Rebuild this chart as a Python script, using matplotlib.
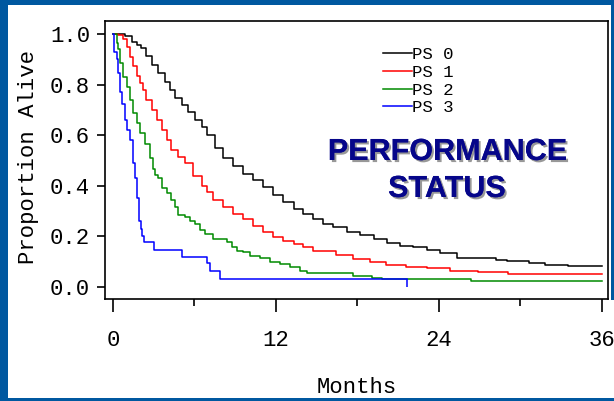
import matplotlib.pyplot as plt
from matplotlib.patches import Rectangle
import matplotlib.patheffects as pe

# Kaplan-Meier curves (months, proportion alive)
ps0_t = [0, 0.88, 1.37, 1.74, 2.1, 2.47, 2.84, 3.33, 3.83, 4.2, 4.56, 5.05, 5.54, 6.03, 6.52, 6.9, 7.5,
         8.1, 8.85, 9.6, 10.3, 11.07, 11.8, 12.5, 13.3, 14.0, 14.75, 15.5, 16.2, 17.2, 18.2, 19.2, 20.15,
         21.1, 22.1, 23.1, 24.1, 25.3, 28.2, 29.0, 30.6, 31.8, 33.5, 36]
ps0_s = [1.0, 0.99, 0.97, 0.958, 0.944, 0.912, 0.878, 0.845, 0.81, 0.78, 0.746, 0.72, 0.693, 0.66, 0.634,
         0.60, 0.548, 0.508, 0.48, 0.448, 0.422, 0.396, 0.362, 0.336, 0.31, 0.29, 0.27, 0.25, 0.237, 0.217,
         0.204, 0.19, 0.175, 0.164, 0.157, 0.148, 0.135, 0.115, 0.108, 0.102, 0.095, 0.088, 0.082, 0.082]

ps1_t = [0, 0.39, 0.76, 1.0, 1.25, 1.5, 1.74, 1.99, 2.24, 2.47, 2.84, 3.21, 3.58, 3.95, 4.3, 4.81, 5.3,
         5.9, 6.52, 6.9, 7.38, 8.1, 8.85, 9.6, 10.3, 11.07, 11.8, 12.5, 13.3, 14.0, 14.75, 16.46, 17.7,
         18.9, 20.1, 21.6, 23.1, 24.8, 26.9, 29.1, 36]
ps1_s = [1.0, 0.997, 0.978, 0.95, 0.91, 0.872, 0.832, 0.806, 0.78, 0.74, 0.70, 0.66, 0.62, 0.58, 0.54,
         0.515, 0.49, 0.44, 0.40, 0.376, 0.343, 0.316, 0.29, 0.27, 0.243, 0.217, 0.197, 0.184, 0.17,
         0.157, 0.144, 0.127, 0.111, 0.098, 0.087, 0.078, 0.074, 0.065, 0.058, 0.052, 0.052]

ps2_t = [0, 0.27, 0.39, 0.52, 0.76, 1.0, 1.25, 1.5, 1.74, 1.99, 2.36, 2.72, 2.97, 3.09, 3.34, 3.58, 3.95,
         4.3, 4.56, 4.8, 5.3, 5.67, 6.03, 6.4, 6.77, 7.38, 8.37, 8.73, 9.1, 9.6, 10.1, 10.8, 11.56, 12.3,
         13.0, 13.8, 14.26, 17.7, 19.1, 19.8, 26.4, 36]
ps2_s = [1.0, 0.965, 0.94, 0.885, 0.83, 0.79, 0.74, 0.687, 0.647, 0.607, 0.567, 0.51, 0.468, 0.442, 0.43,
         0.39, 0.37, 0.343, 0.316, 0.283, 0.276, 0.263, 0.25, 0.224, 0.21, 0.19, 0.177, 0.157, 0.144,
         0.138, 0.124, 0.114, 0.098, 0.091, 0.078, 0.065, 0.056, 0.045, 0.037, 0.033, 0.025, 0.025]

ps3_t = [0, 0.05, 0.27, 0.39, 0.52, 0.69, 0.88, 1.0, 1.25, 1.44, 1.62, 1.79, 1.94, 2.03, 2.16, 2.28,
         3.02, 5.05, 6.9, 7.14, 7.9, 21.65]
ps3_s = [1.0, 0.93, 0.90, 0.845, 0.77, 0.725, 0.66, 0.62, 0.58, 0.49, 0.43, 0.35, 0.26, 0.23, 0.20, 0.18,
         0.148, 0.12, 0.095, 0.065, 0.032, 0.032]

labels = ["PS 0", "PS 1", "PS 2", "PS 3"]
colors = ["black", "#ff0000", "#008a00", "#0000ff"]
x_ticks = [0, 12, 24, 36]
x_minor = [6, 18, 30]
y_ticks = [0.0, 0.2, 0.4, 0.6, 0.8, 1.0]

mono = "Liberation Mono"
blue_bg = "#0058a0"

fig = plt.figure(figsize=(6.14, 4.01), dpi=100, facecolor=blue_bg)
# white card on the blue slide background
fig.patches.append(Rectangle((8 / 614, 3 / 401), 606 / 614, 393 / 401, transform=fig.transFigure,
                             facecolor="white", edgecolor="none", zorder=-2))
fig.patches.append(Rectangle((611 / 614, 1 - 300 / 401), 3 / 614, 300 / 401, transform=fig.transFigure,
                             facecolor=blue_bg, edgecolor="none", zorder=-1))

ax = fig.add_axes([0.1718, 0.2544, 0.8184, 0.6932])
for t, s, lab, c in zip([ps0_t, ps1_t, ps2_t, ps3_t], [ps0_s, ps1_s, ps2_s, ps3_s], labels, colors):
    ax.step(t, s, where="post", color=c, lw=1.1, label=lab)
# censor mark at the end of the PS 3 curve
ax.vlines(ps3_t[-1], ps3_s[-1] - 0.03, ps3_s[-1], color=colors[3], lw=1.1)

ax.set_xlim(-0.55, 36.45)
ax.set_ylim(-0.047, 1.051)
ax.set_xticks(x_ticks)
ax.set_xticks(x_minor, minor=True)
ax.set_yticks(y_ticks)
ax.set_yticklabels([f"{v:.1f}" for v in y_ticks])
ax.tick_params(axis="x", which="major", length=9, width=1.2, pad=13.5, labelsize=16)
ax.tick_params(axis="x", which="minor", length=5, width=1.2)
ax.tick_params(axis="y", length=6, width=1.2, pad=5, labelsize=16)
for lab in ax.get_xticklabels() + ax.get_yticklabels():
    lab.set_fontfamily(mono)
for sp in ax.spines.values():
    sp.set_linewidth(1.2)

ax.set_xlabel("Months", fontfamily=mono, fontsize=16, va="center")
ax.xaxis.set_label_coords(0.5, -0.32)
ax.set_ylabel("Proportion Alive", fontfamily=mono, fontsize=16, va="center")
ax.yaxis.set_label_coords(-0.154, 0.51)

ax.legend(loc="upper left", bbox_to_anchor=(383 / 614, 1 - 47 / 401), bbox_transform=fig.transFigure,
          frameon=False, borderaxespad=0, borderpad=0, handlelength=1.67, handletextpad=0,
          labelspacing=0.15, prop={"family": mono, "size": 12.5})

shadow = [pe.withSimplePatchShadow(offset=(1.5, -1.5), shadow_rgbFace="#7f7f7f", alpha=0.8), pe.Normal()]
for txt, yy in [("PERFORMANCE", 1 - 152 / 401), ("STATUS", 1 - 189 / 401)]:
    fig.text(447 / 614, yy, txt, ha="center", va="center", fontsize=22, fontweight="bold",
             fontfamily="Liberation Sans", color="#06068a", path_effects=shadow)

fig.savefig("out.png", dpi=100, facecolor=fig.get_facecolor())
